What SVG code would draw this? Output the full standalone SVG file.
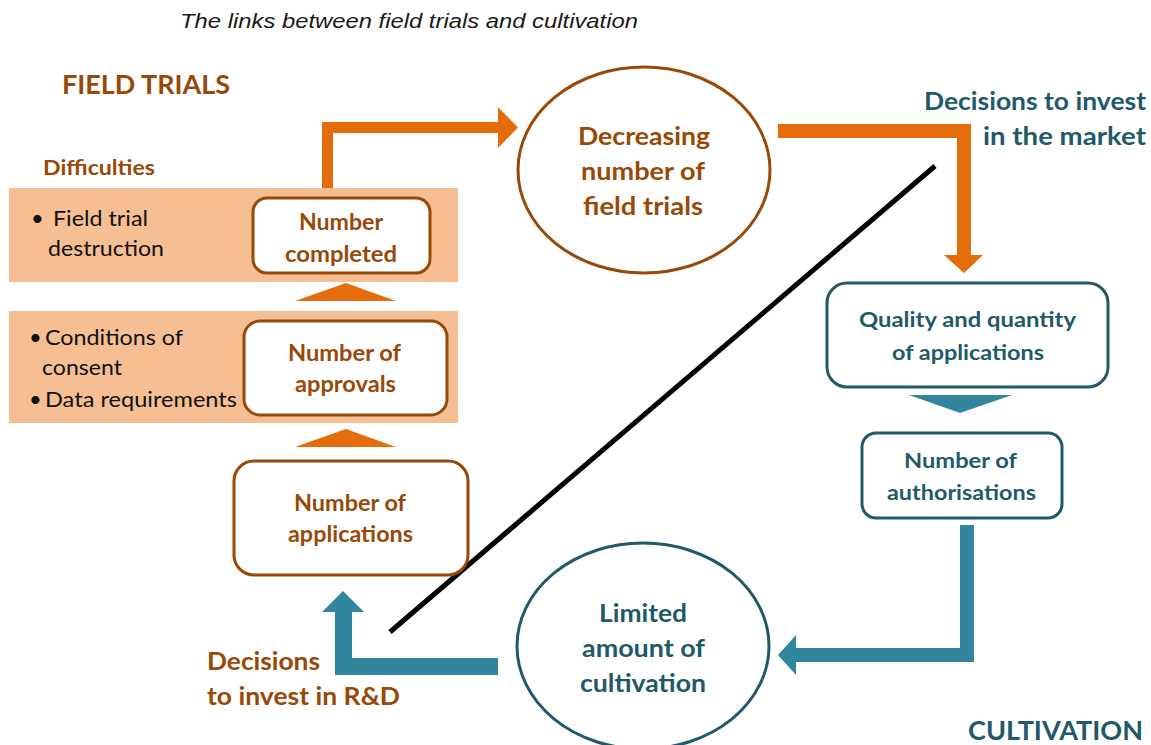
<svg xmlns="http://www.w3.org/2000/svg" width="1151" height="745" viewBox="0 0 1151 745">
  <style>
    .title { font-family: "Liberation Sans", Arial, sans-serif; font-style: italic; font-size: 20px; fill: #1a1a1a; }
    .cal { font-family: Lato, "Open Sans", sans-serif; font-weight: bold; }
    .brown { fill: #984807; }
    .teal { fill: #215968; }
    .body { font-family: Lato, "Open Sans", sans-serif; font-size: 22px; fill: #111; }
    .node { font-size: 22px; }
    .big { font-size: 24px; }
    .band { fill: #F5BE93; }
    .boxB { fill: #fff; stroke: #984807; stroke-width: 3; }
    .boxT { fill: #fff; stroke: #215968; stroke-width: 3; }
    .orange { fill: #E46C0A; }
    .tealArrow { fill: #31859C; }
  </style>

  <rect width="1151" height="745" fill="#fff"/>

  <text class="title" x="180" y="28" textLength="458" lengthAdjust="spacingAndGlyphs">The links between field trials and cultivation</text>

  <!-- section headings -->
  <text class="cal brown" x="62" y="94" font-size="26" textLength="168" lengthAdjust="spacingAndGlyphs">FIELD TRIALS</text>
  <text class="cal teal" x="968" y="740" font-size="26" textLength="175" lengthAdjust="spacingAndGlyphs">CULTIVATION</text>

  <!-- difficulty bands -->
  <g id="difficulties">
    <text class="cal brown" x="43" y="175" font-size="21" textLength="112" lengthAdjust="spacingAndGlyphs">Difficulties</text>
    <rect class="band" x="9" y="188" width="449" height="94"/>
    <rect class="band" x="9" y="311" width="449" height="112"/>
    <text class="body" x="31" y="226">•</text>
    <text class="body" x="53" y="226" textLength="95" lengthAdjust="spacingAndGlyphs">Field trial</text>
    <text class="body" x="48" y="256" textLength="116" lengthAdjust="spacingAndGlyphs">destruction</text>
    <text class="body" x="29" y="345">•</text>
    <text class="body" x="45" y="345" textLength="138" lengthAdjust="spacingAndGlyphs">Conditions of</text>
    <text class="body" x="42" y="375" textLength="80" lengthAdjust="spacingAndGlyphs">consent</text>
    <text class="body" x="29" y="407">•</text>
    <text class="body" x="45" y="407" textLength="192" lengthAdjust="spacingAndGlyphs">Data requirements</text>
  </g>

  <!-- connectors -->
  <g id="connectors">
    <!-- completed trials up and across to the field-trial count -->
    <path class="orange" d="M322,188 V122 H498 V107 L518,127.5 L498,148 V133 H333 V188 Z"/>
    <!-- field trials across and down to applications -->
    <path class="orange" d="M778,124 H971 V255 H983 L964,273 L944,255 H957 V138 H778 Z"/>
    <!-- stage-to-stage chevrons on the field-trial side -->
    <polygon class="orange" points="295,301 396,301 346,283"/>
    <polygon class="orange" points="295,447 396,447 346,429"/>
    <!-- applications to authorisations -->
    <polygon class="tealArrow" points="909,395 1012,395 960,413"/>
    <!-- authorisations down and back to cultivation -->
    <path class="tealArrow" d="M960,525 H974 V662 H796 V675 L778,655 L796,635 V648 H960 Z"/>
    <!-- cultivation back to R&D investment -->
    <path class="tealArrow" d="M498,658 V675 H335 V612 H322 L343,591 L364,612 H352 V658 Z"/>
    <!-- dividing line between the two domains -->
    <line x1="390" y1="632" x2="935" y2="166" stroke="#000" stroke-width="5"/>
  </g>

  <g id="number-completed">
    <rect class="boxB" x="253" y="198" width="177" height="75" rx="14"/>
    <text class="cal brown node" x="299" y="230" textLength="84" lengthAdjust="spacingAndGlyphs">Number</text>
    <text class="cal brown node" x="285" y="262" textLength="112" lengthAdjust="spacingAndGlyphs">completed</text>
  </g>

  <g id="number-approvals">
    <rect class="boxB" x="244" y="321" width="203" height="94" rx="16"/>
    <text class="cal brown node" x="288" y="361" textLength="113" lengthAdjust="spacingAndGlyphs">Number of</text>
    <text class="cal brown node" x="295" y="392" textLength="101" lengthAdjust="spacingAndGlyphs">approvals</text>
  </g>

  <g id="number-applications">
    <rect class="boxB" x="234" y="461" width="234" height="114" rx="20"/>
    <text class="cal brown node" x="294" y="511" textLength="112" lengthAdjust="spacingAndGlyphs">Number of</text>
    <text class="cal brown node" x="288" y="542" textLength="125" lengthAdjust="spacingAndGlyphs">applications</text>
  </g>

  <g id="decreasing-trials">
    <ellipse cx="644" cy="170" rx="126" ry="103" fill="#fff" stroke="#984807" stroke-width="3"/>
    <text class="cal brown big" x="578" y="145" textLength="132" lengthAdjust="spacingAndGlyphs">Decreasing</text>
    <text class="cal brown big" x="581" y="180" textLength="124" lengthAdjust="spacingAndGlyphs">number of</text>
    <text class="cal brown big" x="583" y="215" textLength="120" lengthAdjust="spacingAndGlyphs">field trials</text>
  </g>

  <g id="invest-market">
    <text class="cal teal big" x="924" y="110" textLength="222" lengthAdjust="spacingAndGlyphs">Decisions to invest</text>
    <text class="cal teal big" x="983" y="145" textLength="163" lengthAdjust="spacingAndGlyphs">in the market</text>
  </g>

  <g id="quality-quantity">
    <rect class="boxT" x="827" y="283" width="281" height="104" rx="20"/>
    <text class="cal teal" x="859" y="327" font-size="20" textLength="217" lengthAdjust="spacingAndGlyphs">Quality and  quantity</text>
    <text class="cal teal" x="892" y="360" font-size="20" textLength="152" lengthAdjust="spacingAndGlyphs">of applications</text>
  </g>

  <g id="number-authorisations">
    <rect class="boxT" x="862" y="433" width="200" height="85" rx="14"/>
    <text class="cal teal" x="904" y="468" font-size="20" textLength="113" lengthAdjust="spacingAndGlyphs">Number of</text>
    <text class="cal teal" x="887" y="500" font-size="20" textLength="149" lengthAdjust="spacingAndGlyphs">authorisations</text>
  </g>

  <g id="limited-cultivation">
    <ellipse cx="643" cy="646" rx="126" ry="103" fill="#fff" stroke="#215968" stroke-width="3"/>
    <text class="cal teal big" x="599" y="622" textLength="88" lengthAdjust="spacingAndGlyphs">Limited</text>
    <text class="cal teal big" x="582" y="657" textLength="123" lengthAdjust="spacingAndGlyphs">amount of</text>
    <text class="cal teal big" x="580" y="692" textLength="126" lengthAdjust="spacingAndGlyphs">cultivation</text>
  </g>

  <g id="invest-rd">
    <text class="cal brown big" x="207" y="670" textLength="113" lengthAdjust="spacingAndGlyphs">Decisions</text>
    <text class="cal brown big" x="207" y="705" textLength="193" lengthAdjust="spacingAndGlyphs">to invest in R&amp;D</text>
  </g>
</svg>
